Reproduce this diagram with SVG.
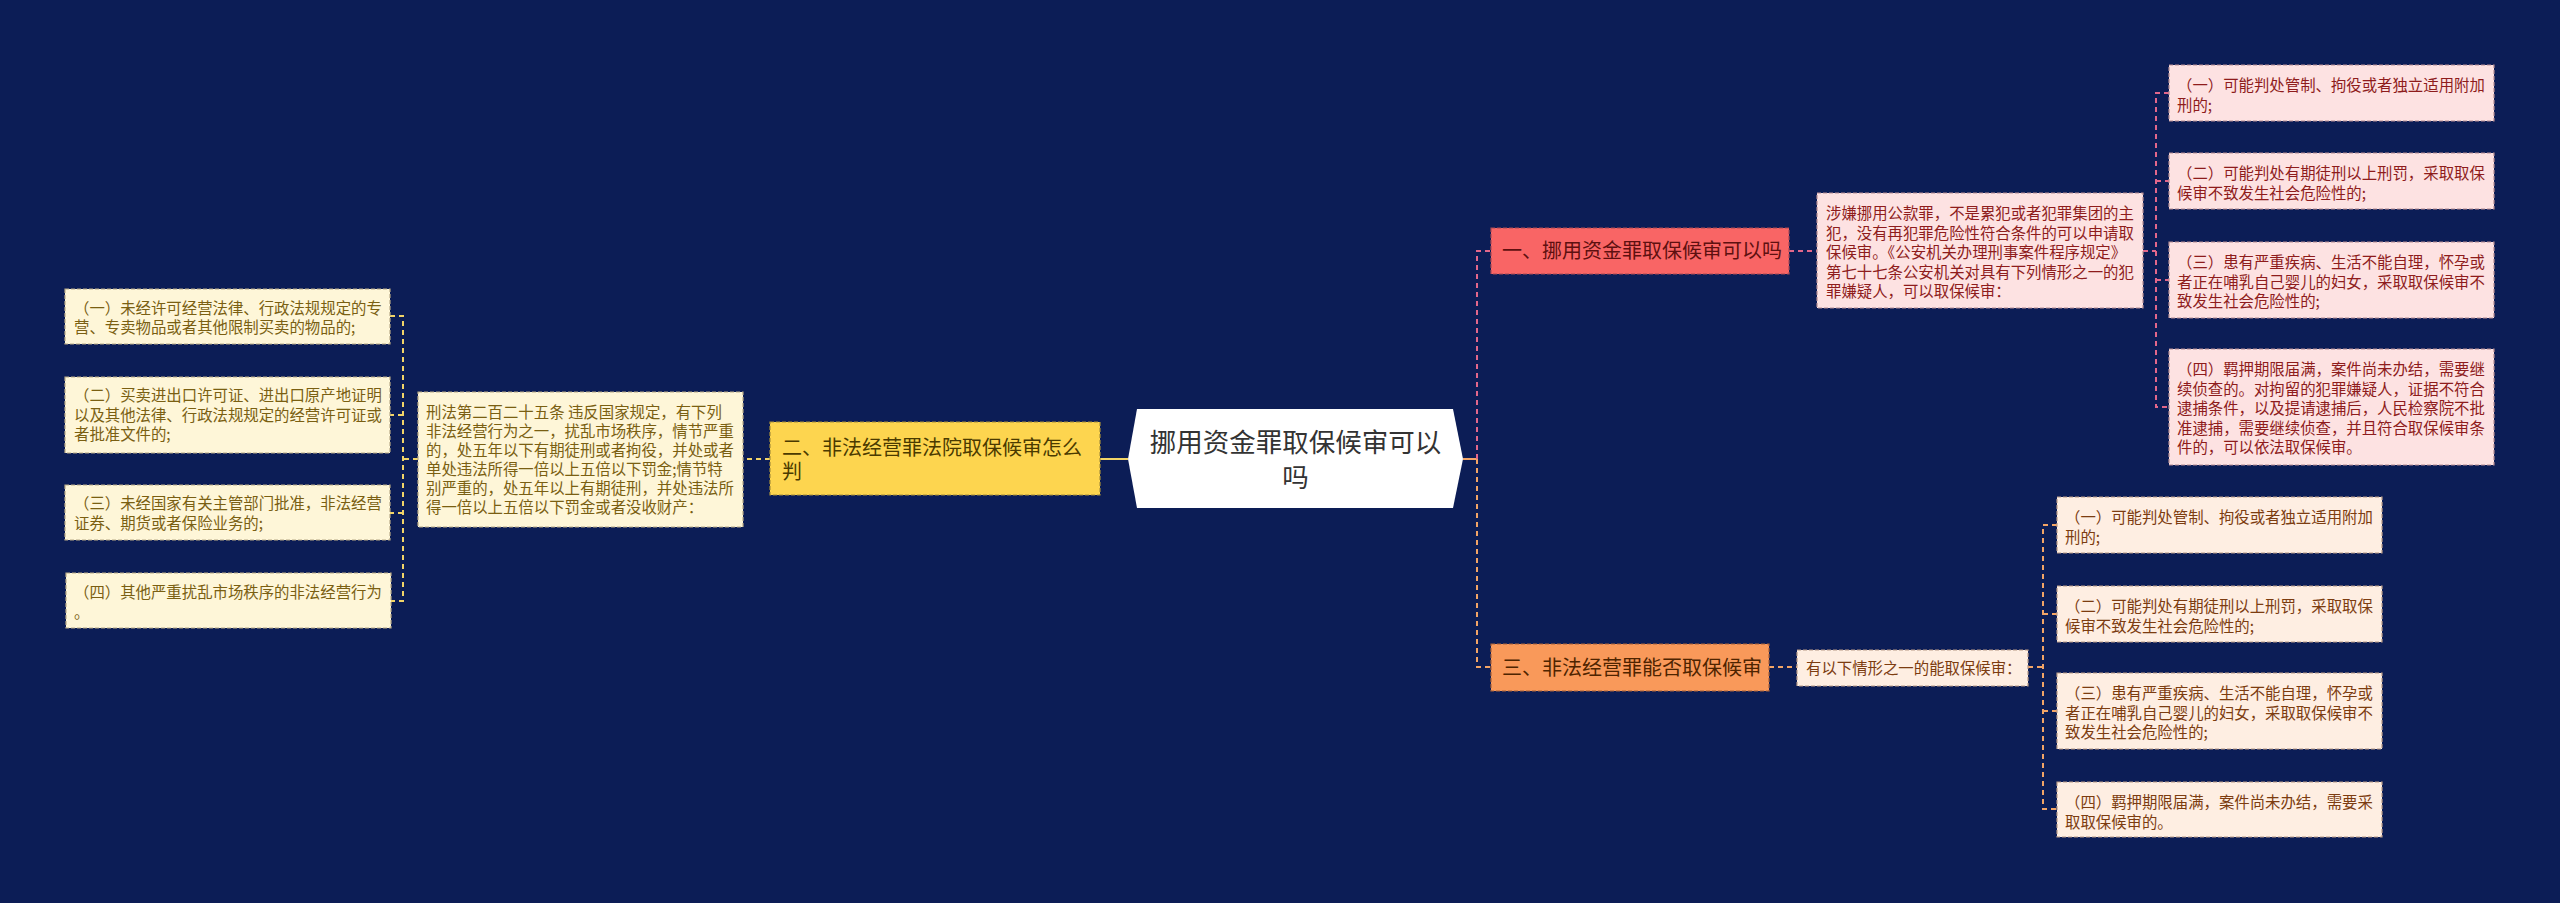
<svg xmlns="http://www.w3.org/2000/svg" width="2560" height="903" viewBox="0 0 2560 903">
<style>
text{font-family:"Noto Sans CJK SC","Noto Sans",sans-serif}
.box{stroke-width:1.2;stroke-dasharray:4 2}
.pk{fill:#fde2e2;stroke:#b58c92}
.pkt{fill:#8e1c1c;font-size:15.4px}
.pe{fill:#feeee2;stroke:#b89a86}
.pet{fill:#7c3c10;font-size:15.4px}
.cr{fill:#fef6d8;stroke:#b8a986}
.crt{fill:#7a5f12;font-size:15.4px}
.c-pink{stroke:#e2678b;stroke-width:2;fill:none;stroke-dasharray:5 4}
.c-or{stroke:#f2a466;stroke-width:2;fill:none;stroke-dasharray:5 4}
.c-ye{stroke:#f2d468;stroke-width:2;fill:none;stroke-dasharray:5 4}
</style>
<rect x="0" y="0" width="2560" height="903" fill="#0c1d56"/>

<g id="connectors">
  <line x1="1128" y1="459" x2="1100" y2="459" stroke="#f2d468" stroke-width="2"/>
  <line x1="1463" y1="459" x2="1477" y2="459" stroke="#f2a466" stroke-width="2"/>
  <path class="c-pink" d="M1477 459 V251 H1491"/>
  <path class="c-or" d="M1477 459 V667 H1491"/>
  <path class="c-pink" d="M1789 251 H1817"/>
  <path class="c-pink" d="M2143 251 H2156"/>
  <path class="c-pink" d="M2169 93 H2156 V407 H2169 M2156 181 H2169 M2156 280 H2169"/>
  <path class="c-or" d="M1769 667 H1797"/>
  <path class="c-or" d="M2028 667 H2043"/>
  <path class="c-or" d="M2057 525 H2043 V809 H2057 M2043 614 H2057 M2043 711 H2057"/>
  <path class="c-ye" d="M770 459 H743"/>
  <path class="c-ye" d="M418 459 H403"/>
  <path class="c-ye" d="M390 316 H403 V601 H391 M403 415 H390 M403 513 H390"/>
</g>

<g id="central">
  <polygon points="1137,409 1453,409 1463,459 1453,508 1137,508 1128,459" fill="#ffffff"/>
  <text x="1295.5" y="452" font-size="26.5" fill="#333333" text-anchor="middle">挪用资金罪取保候审可以</text>
  <text x="1295.5" y="487" font-size="26.5" fill="#333333" text-anchor="middle">吗</text>
</g>

<g id="branch1">
  <rect class="box" x="1491" y="228" width="298" height="46" fill="#f96565" stroke="#a84a55"/>
  <text x="1502" y="258" font-size="20" fill="#5e1010">一、挪用资金罪取保候审可以吗</text>
</g>

<g id="detail1">
  <rect class="box pk" x="1817" y="193" width="326" height="115"/>
  <text class="pkt" x="1826" y="219">涉嫌挪用公款罪，不是累犯或者犯罪集团的主</text>
  <text class="pkt" x="1826" y="238.5">犯，没有再犯罪危险性符合条件的可以申请取</text>
  <text class="pkt" x="1826" y="258">保候审。《公安机关办理刑事案件程序规定》</text>
  <text class="pkt" x="1826" y="277.5">第七十七条公安机关对具有下列情形之一的犯</text>
  <text class="pkt" x="1826" y="297">罪嫌疑人，可以取保候审：</text>
</g>

<g id="r1">
  <rect class="box pk" x="2169" y="65" width="325" height="56"/>
  <text class="pkt" x="2177" y="91">（一）可能判处管制、拘役或者独立适用附加</text>
  <text class="pkt" x="2177" y="110.5">刑的;</text>
</g>
<g id="r2">
  <rect class="box pk" x="2169" y="153" width="325" height="56"/>
  <text class="pkt" x="2177" y="179">（二）可能判处有期徒刑以上刑罚，采取取保</text>
  <text class="pkt" x="2177" y="198.5">候审不致发生社会危险性的;</text>
</g>
<g id="r3">
  <rect class="box pk" x="2169" y="242" width="325" height="76"/>
  <text class="pkt" x="2177" y="268">（三）患有严重疾病、生活不能自理，怀孕或</text>
  <text class="pkt" x="2177" y="287.5">者正在哺乳自己婴儿的妇女，采取取保候审不</text>
  <text class="pkt" x="2177" y="307">致发生社会危险性的;</text>
</g>
<g id="r4">
  <rect class="box pk" x="2169" y="349" width="325" height="116"/>
  <text class="pkt" x="2177" y="375">（四）羁押期限届满，案件尚未办结，需要继</text>
  <text class="pkt" x="2177" y="394.5">续侦查的。对拘留的犯罪嫌疑人，证据不符合</text>
  <text class="pkt" x="2177" y="414">逮捕条件，以及提请逮捕后，人民检察院不批</text>
  <text class="pkt" x="2177" y="433.5">准逮捕，需要继续侦查，并且符合取保候审条</text>
  <text class="pkt" x="2177" y="453">件的，可以依法取保候审。</text>
</g>

<g id="branch3">
  <rect class="box" x="1491" y="644" width="278" height="47" fill="#f9995a" stroke="#a8623a"/>
  <text x="1502" y="674.5" font-size="20" fill="#4e2400">三、非法经营罪能否取保候审</text>
</g>

<g id="detail3">
  <rect class="box pe" x="1797" y="650" width="231" height="36"/>
  <text x="1806" y="673.5" font-size="15.4" fill="#7c3c10">有以下情形之一的能取保候审：</text>
</g>

<g id="l1">
  <rect class="box pe" x="2057" y="497" width="325" height="56"/>
  <text class="pet" x="2065" y="523">（一）可能判处管制、拘役或者独立适用附加</text>
  <text class="pet" x="2065" y="542.5">刑的;</text>
</g>
<g id="l2">
  <rect class="box pe" x="2057" y="586" width="325" height="56"/>
  <text class="pet" x="2065" y="612">（二）可能判处有期徒刑以上刑罚，采取取保</text>
  <text class="pet" x="2065" y="631.5">候审不致发生社会危险性的;</text>
</g>
<g id="l3">
  <rect class="box pe" x="2057" y="673" width="325" height="76"/>
  <text class="pet" x="2065" y="699">（三）患有严重疾病、生活不能自理，怀孕或</text>
  <text class="pet" x="2065" y="718.5">者正在哺乳自己婴儿的妇女，采取取保候审不</text>
  <text class="pet" x="2065" y="738">致发生社会危险性的;</text>
</g>
<g id="l4">
  <rect class="box pe" x="2057" y="782" width="325" height="55"/>
  <text class="pet" x="2065" y="808">（四）羁押期限届满，案件尚未办结，需要采</text>
  <text class="pet" x="2065" y="827.5">取取保候审的。</text>
</g>

<g id="branch2">
  <rect class="box" x="770" y="422" width="330" height="73" fill="#fdd54f" stroke="#a8903a"/>
  <text x="782" y="455" font-size="20" fill="#4a3a00">二、非法经营罪法院取保候审怎么</text>
  <text x="782" y="479" font-size="20" fill="#4a3a00">判</text>
</g>

<g id="detail2">
  <rect class="box cr" x="418" y="392" width="325" height="135"/>
  <text class="crt" x="426" y="417.5">刑法第二百二十五条 违反国家规定，有下列</text>
  <text class="crt" x="426" y="436.5">非法经营行为之一，扰乱市场秩序，情节严重</text>
  <text class="crt" x="426" y="455.5">的，处五年以下有期徒刑或者拘役，并处或者</text>
  <text class="crt" x="426" y="474.5">单处违法所得一倍以上五倍以下罚金;情节特</text>
  <text class="crt" x="426" y="493.5">别严重的，处五年以上有期徒刑，并处违法所</text>
  <text class="crt" x="426" y="512.5">得一倍以上五倍以下罚金或者没收财产：</text>
</g>

<g id="ll1">
  <rect class="box cr" x="65" y="289" width="325" height="55"/>
  <text class="crt" x="74" y="314">（一）未经许可经营法律、行政法规规定的专</text>
  <text class="crt" x="74" y="333">营、专卖物品或者其他限制买卖的物品的;</text>
</g>
<g id="ll2">
  <rect class="box cr" x="65" y="377" width="325" height="76"/>
  <text class="crt" x="74" y="401">（二）买卖进出口许可证、进出口原产地证明</text>
  <text class="crt" x="74" y="420.5">以及其他法律、行政法规规定的经营许可证或</text>
  <text class="crt" x="74" y="440">者批准文件的;</text>
</g>
<g id="ll3">
  <rect class="box cr" x="65" y="485" width="325" height="55"/>
  <text class="crt" x="74" y="509">（三）未经国家有关主管部门批准，非法经营</text>
  <text class="crt" x="74" y="528.5">证券、期货或者保险业务的;</text>
</g>
<g id="ll4">
  <rect class="box cr" x="66" y="573" width="325" height="55"/>
  <text class="crt" x="74" y="598">（四）其他严重扰乱市场秩序的非法经营行为</text>
  <text class="crt" x="74" y="617.5">。</text>
</g>
</svg>
